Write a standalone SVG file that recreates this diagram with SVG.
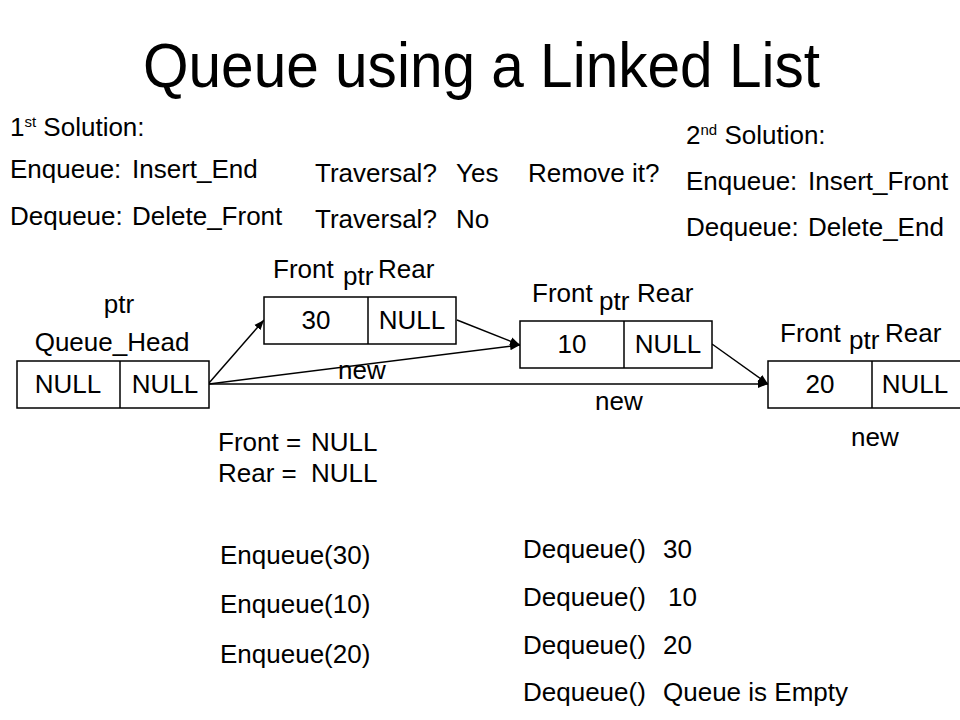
<svg xmlns="http://www.w3.org/2000/svg" width="960" height="720" viewBox="0 0 960 720">
<style>
text{font-family:"Liberation Sans",Arial,sans-serif;font-size:26px;fill:#000}
.t{font-size:63px}
.sup{font-size:15px}
.c{text-anchor:middle}
.box{fill:#fff;stroke:#000;stroke-width:1.5}
.ln{stroke:#000;stroke-width:1.5;fill:none}
</style>
<defs>
<marker id="ah" viewBox="0 0 10 10" refX="10" refY="5" markerWidth="10" markerHeight="10" markerUnits="userSpaceOnUse" orient="auto">
<path d="M0,1 L10,5 L0,9 Z" fill="#000"/>
</marker>
</defs>
<rect width="960" height="720" fill="#fff"/>
<text class="t" x="143" y="87" textLength="677" lengthAdjust="spacingAndGlyphs">Queue using a Linked List</text>

<g id="solution1">
<text x="10" y="136">1<tspan class="sup" dy="-9">st</tspan><tspan dy="9"> Solution:</tspan></text>
<text x="10" y="178">Enqueue:</text><text x="132" y="178">Insert_End</text>
<text x="10" y="225">Dequeue:</text><text x="132" y="225">Delete_Front</text>
</g>
<g id="traversal">
<text x="315" y="182">Traversal?</text><text x="456" y="182">Yes</text><text x="528" y="182">Remove it?</text>
<text x="315" y="228">Traversal?</text><text x="456" y="228">No</text>
</g>
<g id="solution2">
<text x="686" y="144">2<tspan class="sup" dy="-9">nd</tspan><tspan dy="9"> Solution:</tspan></text>
<text x="686" y="190">Enqueue:</text><text x="808" y="190">Insert_Front</text>
<text x="686" y="236">Dequeue:</text><text x="808" y="236">Delete_End</text>
</g>

<g id="connectors">
<line class="ln" x1="209" y1="383" x2="264" y2="320" marker-end="url(#ah)"/>
<line class="ln" x1="209" y1="384" x2="520" y2="345" marker-end="url(#ah)"/>
<line class="ln" x1="209" y1="384" x2="768" y2="384" marker-end="url(#ah)"/>
<line class="ln" x1="457" y1="320" x2="520" y2="345" marker-end="url(#ah)"/>
<line class="ln" x1="712" y1="344" x2="768" y2="384" marker-end="url(#ah)"/>
</g>

<g id="queue_head">
<text class="c" x="119" y="313">ptr</text>
<text class="c" x="112" y="351">Queue_Head</text>
<rect class="box" x="17" y="361" width="192" height="47"/>
<line class="ln" x1="120" y1="361" x2="120" y2="408"/>
<text class="c" x="68" y="393">NULL</text>
<text class="c" x="165" y="393">NULL</text>
</g>

<g id="node30">
<text x="273" y="278">Front</text><text x="343" y="285">ptr</text><text x="378" y="278">Rear</text>
<rect class="box" x="264" y="297" width="192" height="47"/>
<line class="ln" x1="368" y1="297" x2="368" y2="344"/>
<text class="c" x="316" y="329">30</text>
<text class="c" x="412" y="329">NULL</text>
<text x="338" y="379">new</text>
</g>

<g id="node10">
<text x="532" y="302">Front</text><text x="599" y="310">ptr</text><text x="637" y="302">Rear</text>
<rect class="box" x="520" y="321" width="192" height="47"/>
<line class="ln" x1="624" y1="321" x2="624" y2="368"/>
<text class="c" x="572" y="353">10</text>
<text class="c" x="668" y="353">NULL</text>
<text x="595" y="410">new</text>
</g>

<g id="node20">
<text x="780" y="342">Front</text><text x="849" y="349">ptr</text><text x="885" y="342">Rear</text>
<rect class="box" x="768" y="361" width="193" height="47"/>
<line class="ln" x1="872" y1="361" x2="872" y2="408"/>
<text class="c" x="820" y="393">20</text>
<text class="c" x="915" y="393">NULL</text>
<text x="851" y="446">new</text>
</g>

<g id="init">
<text x="218" y="451">Front =</text><text x="311" y="451">NULL</text>
<text x="218" y="482">Rear =</text><text x="311" y="482">NULL</text>
</g>
<g id="enqueues">
<text x="220" y="564">Enqueue(30)</text>
<text x="220" y="613">Enqueue(10)</text>
<text x="220" y="663">Enqueue(20)</text>
</g>
<g id="dequeues">
<text x="523" y="558">Dequeue()</text><text x="663" y="558">30</text>
<text x="523" y="606">Dequeue()</text><text x="668" y="606">10</text>
<text x="523" y="654">Dequeue()</text><text x="663" y="654">20</text>
<text x="523" y="701">Dequeue()</text><text x="663" y="701">Queue is Empty</text>
</g>
</svg>
